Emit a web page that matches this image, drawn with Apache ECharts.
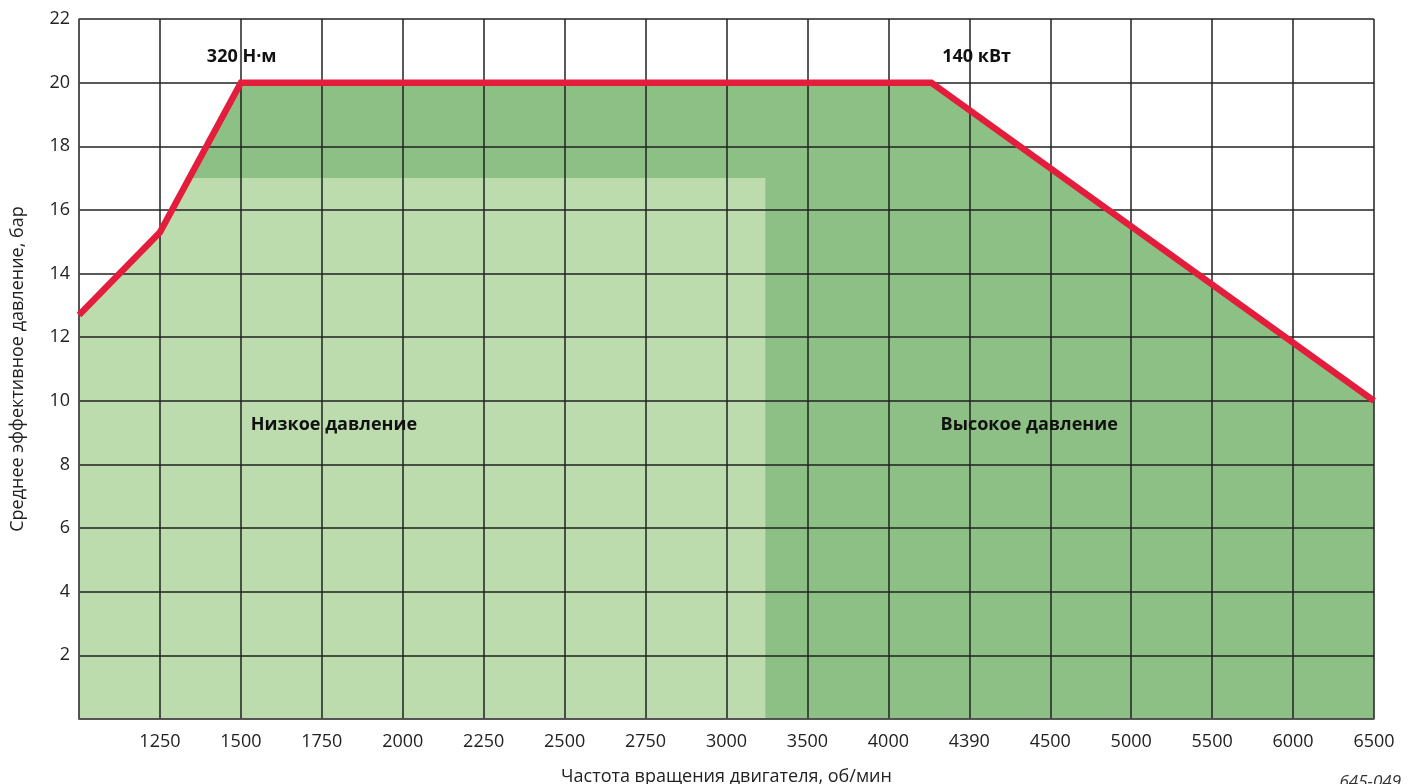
<!DOCTYPE html>
<html>
<head>
<meta charset="utf-8">
<style>
  html, body { margin: 0; padding: 0; background: #fff; }
  #chart { width: 1413px; height: 784px; }
</style>
<script src="https://cdn.jsdelivr.net/npm/echarts@6/dist/echarts.min.js"></script>
</head>
<body>
<div id="chart"></div>
<script>
// x axis is a row of evenly spaced slots, labels are the rpm values
var rpmLabels = ['', '1250', '1500', '1750', '2000', '2250', '2500', '2750', '3000', '3500', '4000', '4390', '4500', '5000', '5500', '6000', '6500']
var yTicks = [2, 4, 6, 8, 10, 12, 14, 16, 18, 20, 22]

// full load curve (slot index, bar)
var fullLoad = [[0, 12.7], [1, 15.3], [2, 20], [10.53, 20], [16, 10]]
// low pressure region border
var lowPressure = [[0, 12.7], [1, 15.3], [1.38, 17], [8.48, 17]]

var labels = [
  { name: '320 Н·м', coord: [2.01, 20.8] },
  { name: '140 кВт', coord: [11.09, 20.8] },
  { name: 'Низкое давление', coord: [3.15, 9.25] },
  { name: 'Высокое давление', coord: [11.74, 9.25] }
]

var font = '"Open Sans", "Noto Sans", sans-serif'
var chart = echarts.init(document.getElementById('chart'))

chart.setOption({
  animation: false,
  textStyle: { fontFamily: font },
  grid: { left: 79, right: 39, top: 19, bottom: 65, outerBoundsMode: 'none' },
  xAxis: {
    type: 'value',
    min: 0,
    max: 16,
    interval: 1,
    name: 'Частота вращения двигателя, об/мин',
    nameLocation: 'middle',
    nameGap: 49,
    nameTextStyle: { fontSize: 18, color: '#222', fontFamily: font },
    axisLine: { lineStyle: { color: '#555', width: 1.5 } },
    axisTick: { show: false },
    axisLabel: {
      margin: 14,
      fontSize: 18,
      color: '#222',
      formatter: function(v) { return rpmLabels[v] || '' }
    },
    splitLine: { lineStyle: { color: '#222', width: 1.5 } }
  },
  yAxis: {
    type: 'value',
    min: 0,
    max: 22,
    interval: 2,
    name: 'Среднее эффективное давление, бар',
    nameLocation: 'middle',
    nameGap: 52,
    nameTextStyle: { fontSize: 18, color: '#222', fontFamily: font },
    axisLine: { show: true, lineStyle: { color: '#555', width: 1.5 } },
    axisTick: { show: false },
    axisLabel: {
      margin: 9,
      fontSize: 18,
      color: '#222',
      formatter: function(v) { return yTicks.indexOf(v) >= 0 ? String(v) : '' }
    },
    splitLine: { lineStyle: { color: '#222', width: 1.5 } }
  },
  series: [{
    name: 'high',
    type: 'line',
    z: -2,
    data: fullLoad,
    symbol: 'none',
    lineStyle: { width: 0 },
    areaStyle: { color: '#8dc085', opacity: 1 }
  },
  {
    name: 'low',
    type: 'line',
    z: -1,
    data: lowPressure,
    symbol: 'none',
    lineStyle: { width: 0 },
    areaStyle: { color: '#bcdcae', opacity: 1 }
  },
  {
    name: 'full load',
    type: 'line',
    z: 5,
    data: fullLoad,
    symbol: 'none',
    lineStyle: { color: '#e31d3b', width: 6.5, join: 'miter' },
    markPoint: {
      symbol: 'circle',
      symbolSize: 0,
      label: {
        show: true,
        position: 'inside',
        formatter: '{b}',
        fontSize: 18,
        fontWeight: 'bold',
        color: '#111',
        fontFamily: font
      },
      data: labels
    }
  }],
  graphic: [{
    type: 'text',
    right: 12,
    bottom: -7,
    style: { text: '645-049', fontSize: 17, fontStyle: 'italic', fill: '#333', fontFamily: font }
  }]
})
</script>
</body>
</html>
